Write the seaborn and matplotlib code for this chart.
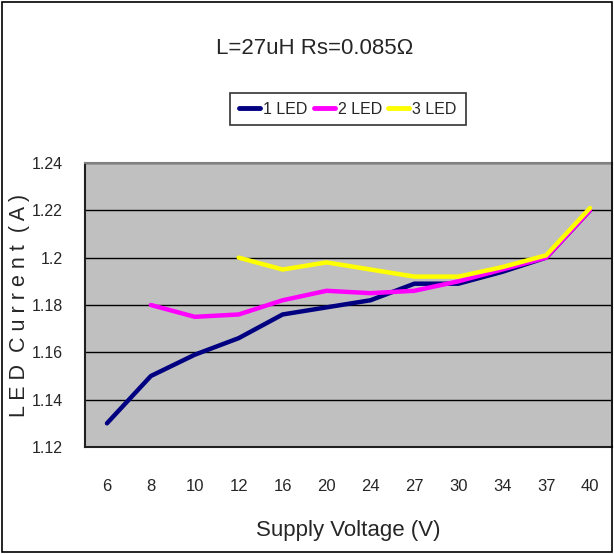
import pandas as pd
import numpy as np
import seaborn as sns
import matplotlib.pyplot as plt
from matplotlib.patches import Rectangle

# values
voltages = ["6", "8", "10", "12", "16", "20", "24", "27", "30", "34", "37", "40"]
led1 = [1.130, 1.150, 1.159, 1.166, 1.176, 1.179, 1.182, 1.189, 1.189, 1.194, 1.200, 1.220]
led2 = [np.nan, 1.180, 1.175, 1.176, 1.182, 1.186, 1.185, 1.186, 1.190, 1.195, 1.200, 1.220]
led3 = [np.nan, np.nan, np.nan, 1.200, 1.195, 1.198, 1.195, 1.192, 1.192, 1.196, 1.201, 1.221]
series_names = ["1 LED", "2 LED", "3 LED"]
series_colors = ["#000080", "#FF00FF", "#FFFF00"]
y_ticks = [1.12, 1.14, 1.16, 1.18, 1.20, 1.22, 1.24]
y_tick_labels = ["1.12", "1.14", "1.16", "1.18", "1.2", "1.22", "1.24"]

df = pd.DataFrame({"Voltage": voltages * 3,
                   "Current": led1 + led2 + led3,
                   "Series": np.repeat(series_names, len(voltages))}).dropna()

sns.set_style("white")
plt.rcParams['font.family'] = ['Liberation Sans', 'DejaVu Sans']

fig = plt.figure(figsize=(6.14, 5.54), dpi=100)
ax = fig.add_axes([85 / 614, 1 - 447 / 554, 527 / 614, 284 / 554])
ax.set_facecolor("#C0C0C0")

sns.lineplot(data=df, x="Voltage", y="Current", hue="Series", hue_order=series_names,
             palette=series_colors, linewidth=3.2, sort=False, ax=ax, legend=False)

ax.set_xlim(-0.5, len(voltages) - 0.5)
ax.set_ylim(1.12, 1.24)
ax.set_yticks(y_ticks)
ax.set_yticklabels(y_tick_labels, fontsize=11.5)
ax.set_xticks(range(len(voltages)))
ax.set_xticklabels(voltages, fontsize=12)
ax.set_xticks(np.arange(-0.5, len(voltages), 1), minor=True)
ax.tick_params(axis="x", which="major", length=0, pad=23)
ax.tick_params(axis="x", which="minor", length=6, direction="in", color="#404040", width=1.2)
ax.tick_params(axis="y", length=5, direction="in", color="#404040", width=1.2, pad=16)
ax.grid(axis="y", color="black", linewidth=1)
ax.set_axisbelow(True)

for side in ["top", "right"]:
    ax.spines[side].set_color("#808080")
    ax.spines[side].set_linewidth(1.5)
for side in ["left", "bottom"]:
    ax.spines[side].set_color("#202020")
    ax.spines[side].set_linewidth(1.5)

ax.set_xlabel("Supply Voltage (V)", fontsize=16)
ax.xaxis.set_label_coords(0.5, -(520 - 447) / 284)
ax.set_ylabel("L E D  C u r r e n t  ( A )", fontsize=15.5)
ax.yaxis.set_label_coords(-(85 - 30) / 527, 0.5)

fig.text(315 / 614, 1 - 48 / 554, "L=27uH Rs=0.085Ω", fontsize=16, ha="center", va="center")

handles = [plt.Line2D([], [], color=c, linewidth=3.5) for c in series_colors]
leg = fig.legend(handles, series_names, loc="center", bbox_to_anchor=(348 / 614, 1 - 109 / 554),
                 ncol=3, fontsize=11.5, frameon=True, fancybox=False, handlelength=1.3,
                 handletextpad=0.2, columnspacing=0.4, borderpad=0.55)
leg.get_frame().set_edgecolor("black")
leg.get_frame().set_linewidth(1.2)

fig.patches.append(Rectangle((0.003, 0.003), 0.994, 0.994, transform=fig.transFigure,
                             fill=False, edgecolor="black", linewidth=1.2))

fig.savefig("out.png", dpi=100)
